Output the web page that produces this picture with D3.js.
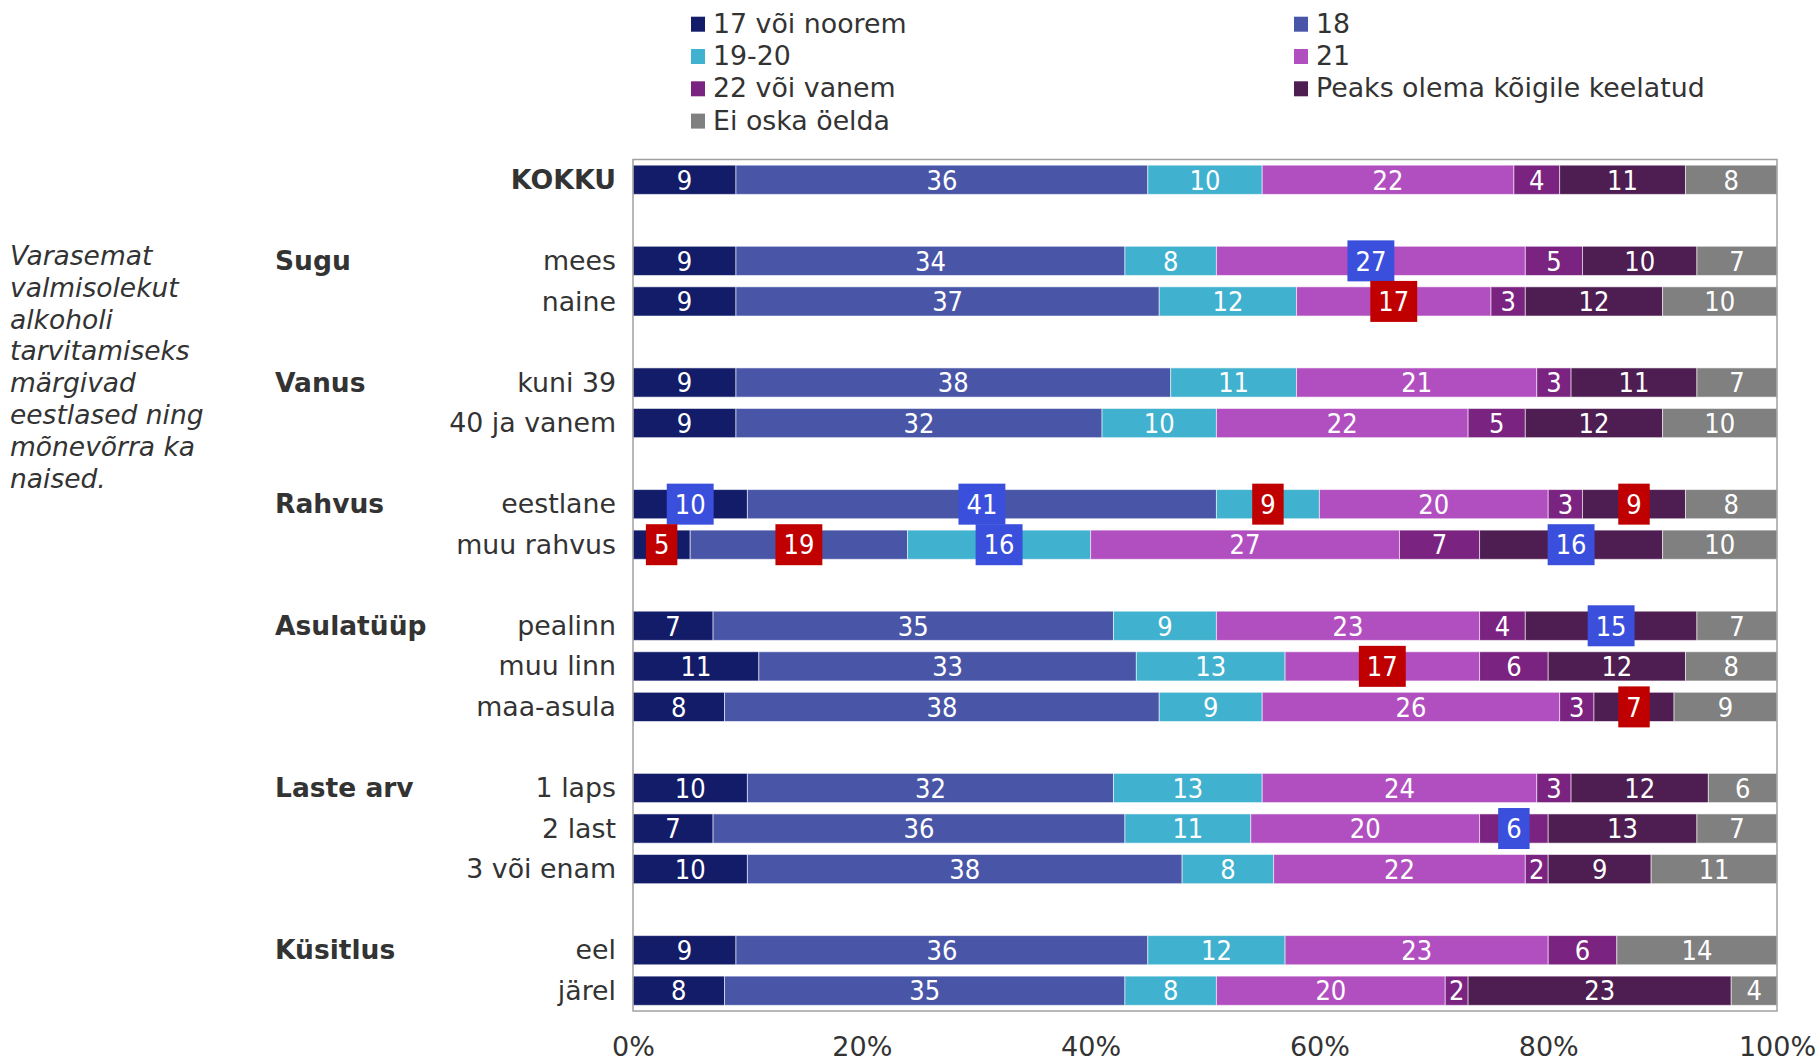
<!DOCTYPE html>
<html>
<head>
<meta charset="utf-8">
<title></title>
<style>
body { margin: 0; background: #fff; }
text { font-family: "DejaVu Sans", sans-serif; fill: #333; }
text.val { font-family: "DejaVu Sans Condensed", "DejaVu Sans", sans-serif; }
</style>
</head>
<body>
<script src="https://cdn.jsdelivr.net/npm/d3@7"></script>
<script>

// categories (top to bottom)
var categories = ["KOKKU", "mees", "naine", "kuni 39", "40 ja vanem", "eestlane", "muu rahvus",
  "pealinn", "muu linn", "maa-asula", "1 laps", "2 last", "3 või enam", "eel", "järel"];

// group headings and the first category of each group
var groupLabels = ["Sugu", "Vanus", "Rahvus", "Asulatüüp", "Laste arv", "Küsitlus"];
var groupStarts = ["mees", "kuni 39", "eestlane", "pealinn", "1 laps", "eel"];

var seriesNames = ["17 või noorem", "18", "19-20", "21", "22 või vanem", "Peaks olema kõigile keelatud", "Ei oska öelda"];

// values in %, one per category
var v17 = [9, 9, 9, 9, 9, 10, 5, 7, 11, 8, 10, 7, 10, 9, 8];
var v18 = [36, 34, 37, 38, 32, 41, 19, 35, 33, 38, 32, 36, 38, 36, 35];
var v1920 = [10, 8, 12, 11, 10, 9, 16, 9, 13, 9, 13, 11, 8, 12, 8];
var v21 = [22, 27, 17, 21, 22, 20, 27, 23, 17, 26, 24, 20, 22, 23, 20];
var v22 = [4, 5, 3, 3, 5, 3, 7, 4, 6, 3, 3, 6, 2, 6, 2];
var vPeaks = [11, 10, 12, 11, 12, 9, 16, 15, 12, 7, 12, 13, 9, 0, 23];
var vEio = [8, 7, 10, 7, 10, 8, 10, 7, 8, 9, 6, 7, 11, 14, 4];
var seriesValues = [v17, v18, v1920, v21, v22, vPeaks, vEio];

// highlighted labels: category, series index, kind
var highlights = [
  ["mees", 3, "hi"], ["naine", 3, "lo"],
  ["eestlane", 0, "hi"], ["eestlane", 1, "hi"], ["eestlane", 2, "lo"], ["eestlane", 5, "lo"],
  ["muu rahvus", 0, "lo"], ["muu rahvus", 1, "lo"], ["muu rahvus", 2, "hi"], ["muu rahvus", 5, "hi"],
  ["pealinn", 5, "hi"], ["muu linn", 3, "lo"], ["maa-asula", 5, "lo"], ["2 last", 4, "hi"]
];

var noteLines = ["Varasemat", "valmisolekut", "alkoholi", "tarvitamiseks", "märgivad",
  "eestlased ning", "mõnevõrra ka", "naised."];

var tickValues = [0, 20, 40, 60, 80, 100];

var colors = ["#131c69", "#4956a8", "#40b1ce", "#b24fc0", "#7a2381", "#4e1d52", "#808080"];
var hiColor = { hi: "#3b4fdd", lo: "#c00000" };

var width = 1820, height = 1061;

// slots: categories plus a spacer before each group
var slots = [];
categories.forEach(function(c) {
  if (groupStarts.indexOf(c) >= 0) slots.push("_gap" + slots.length);
  slots.push(c);
});

var x = d3.scaleLinear().domain([0, 100]).range([633, 1777]);
var y = d3.scaleBand().domain(slots).range([159.5, 1011]).paddingInner(0.28).paddingOuter(0.14);

var svg = d3.select("body").append("svg")
  .attr("width", width)
  .attr("height", height);

// stacked data
var rows = categories.map(function(c, i) {
  var acc = 0;
  return seriesValues.map(function(arr, s) {
    var seg = { cat: c, s: s, v: arr[i], x0: acc, x1: acc + arr[i] };
    acc += arr[i];
    return seg;
  });
});
var segs = [].concat.apply([], rows);

svg.append("g")
  .selectAll("rect")
  .data(segs)
  .enter().append("rect")
  .attr("x", function(d) { return x(d.x0); })
  .attr("y", function(d) { return y(d.cat); })
  .attr("width", function(d) { return x(d.x1) - x(d.x0); })
  .attr("height", y.bandwidth())
  .style("fill", function(d) { return colors[d.s]; })
  .style("stroke", "rgba(255,255,255,0.55)")
  .style("stroke-width", 1);

// plot border
svg.append("rect")
  .attr("x", 633).attr("y", 159.5)
  .attr("width", 1777 - 633).attr("height", 1011 - 159.5)
  .style("fill", "none")
  .style("stroke", "#a0a0a0")
  .style("stroke-width", 1.5);

// value labels
var lab = svg.append("g").selectAll("g")
  .data(segs.filter(function(d) { return d.v > 0; }))
  .enter().append("g")
  .attr("transform", function(d) {
    return "translate(" + x((d.x0 + d.x1) / 2) + "," + (y(d.cat) + y.bandwidth() / 2) + ")";
  });

lab.each(function(d) {
  var g = d3.select(this);
  var h = highlights.filter(function(k) { return k[0] == d.cat && k[1] == d.s; })[0];
  var rect = h ? g.append("rect") : null;
  var t = g.append("text")
    .attr("class", "val")
    .attr("text-anchor", "middle")
    .attr("dy", "0.36em")
    .style("font-size", "27px")
    .style("fill", "#fff")
    .text(d.v);
  if (h) {
    var w = t.node().getComputedTextLength() + 16;
    rect.attr("x", -w / 2).attr("y", -20.5).attr("width", w).attr("height", 41)
      .style("fill", hiColor[h[2]]);
  }
});

// category labels
svg.append("g").selectAll("text")
  .data(categories)
  .enter().append("text")
  .attr("x", 616)
  .attr("y", function(d) { return y(d) + y.bandwidth() / 2; })
  .attr("dy", "0.34em")
  .attr("text-anchor", "end")
  .style("font-size", "26.8px")
  .style("font-weight", function(d) { return d == "KOKKU" ? "bold" : "normal"; })
  .text(function(d) { return d; });

// group labels
svg.append("g").selectAll("text")
  .data(groupLabels)
  .enter().append("text")
  .attr("x", 275)
  .attr("y", function(d, i) { return y(groupStarts[i]) + y.bandwidth() / 2; })
  .attr("dy", "0.34em")
  .style("font-size", "26.5px")
  .style("font-weight", "bold")
  .text(function(d) { return d; });

// x axis
var axis = svg.append("g")
  .attr("transform", "translate(0,1011)")
  .call(d3.axisBottom(x).tickValues(tickValues).tickFormat(function(d) { return d + "%"; })
    .tickSize(0).tickPadding(26));
axis.select(".domain").remove();
axis.selectAll("text")
  .style("font-size", "27px")
  .style("font-family", "\"DejaVu Sans\", sans-serif")
  .style("fill", "#333");

// legend
var leg = svg.append("g").selectAll("g")
  .data(seriesNames)
  .enter().append("g")
  .attr("transform", function(d, i) {
    return "translate(" + (i % 2 ? 1294 : 691) + "," + (32.7 + Math.floor(i / 2) * 32.3) + ")";
  });
leg.append("rect")
  .attr("x", 0).attr("y", -16).attr("width", 14).attr("height", 15)
  .style("fill", function(d, i) { return colors[i]; });
leg.append("text")
  .attr("x", 22)
  .style("font-size", "26.8px")
  .text(function(d) { return d; });

// side note
svg.append("text")
  .style("font-size", "26.5px")
  .style("font-style", "italic")
  .selectAll("tspan")
  .data(noteLines)
  .enter().append("tspan")
  .attr("x", 10)
  .attr("y", function(d, i) { return 265 + i * 31.8; })
  .text(function(d) { return d; });

</script>
</body>
</html>
